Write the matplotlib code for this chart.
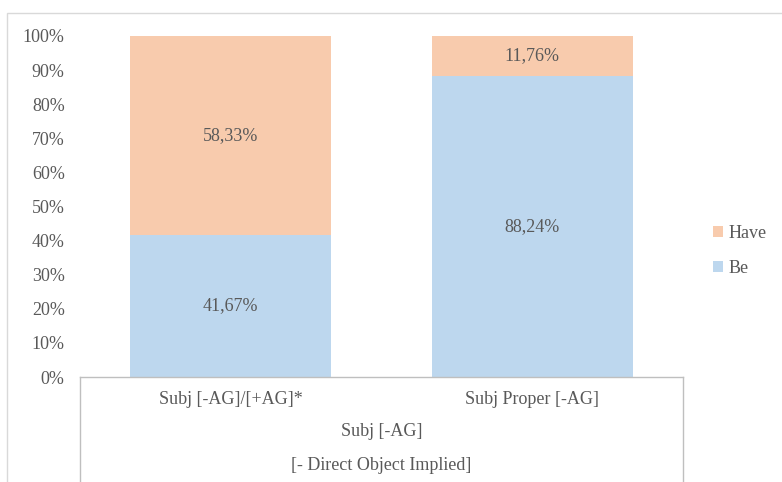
import matplotlib.pyplot as plt
from matplotlib.patches import Rectangle
from matplotlib.lines import Line2D

categories = ['Subj [-AG]/[+AG]*', 'Subj Proper [-AG]']
group_label = 'Subj [-AG]'
outer_label = '[- Direct Object Implied]'
be = [41.67, 88.24]
have = [58.33, 11.76]

be_color = '#BDD7EE'
have_color = '#F8CBAD'
text_color = '#595959'
line_color = '#BFBFBF'
fs = 13

plt.rcParams['font.family'] = ['Liberation Serif', 'DejaVu Serif']

W, H = 782, 482
fig = plt.figure(figsize=(W / 100, H / 100), dpi=100)
ax = fig.add_axes([80 / W, 1 - 377 / H, (683 - 80) / W, (377 - 36) / H])

x = [0.5, 1.5]
ax.bar(x, be, width=0.667, color=be_color, label='Be')
ax.bar(x, have, width=0.667, bottom=be, color=have_color, label='Have')

for xi, b, h in zip(x, be, have):
    ax.text(xi, b / 2, f'{b:.2f}%'.replace('.', ','), ha='center', va='center',
            fontsize=fs, color=text_color)
    ax.text(xi, b + h / 2, f'{h:.2f}%'.replace('.', ','), ha='center', va='center',
            fontsize=fs, color=text_color)

ax.set_xlim(0, 2)
ax.set_ylim(0, 100)
ax.set_yticks(range(0, 101, 10))
ax.set_yticklabels([f'{v}%' for v in range(0, 101, 10)], fontsize=fs, color=text_color)
ax.tick_params(axis='y', length=0, pad=11)
ax.set_xticks([])
for s in ax.spines.values():
    s.set_visible(False)

# multi-level category box
fx0, fx1 = 80 / W, 683 / W
fy0 = 1 - 377 / H
for fx in (fx0, fx1):
    fig.add_artist(Line2D([fx, fx], [0, fy0], color=line_color, lw=1))
fig.add_artist(Line2D([fx0, fx1], [fy0, fy0], color=line_color, lw=1))
for xi, lab in zip(x, categories):
    fx = (80 + xi / 2 * (683 - 80)) / W
    fig.text(fx, 1 - 399 / H, lab, ha='center', va='center', fontsize=fs, color=text_color)
fig.text((fx0 + fx1) / 2, 1 - 432 / H, group_label, ha='center', va='center',
         fontsize=fs, color=text_color)
fig.text((fx0 + fx1) / 2, 1 - 465 / H, outer_label, ha='center', va='center',
         fontsize=fs, color=text_color)

# legend
handles, labels = ax.get_legend_handles_labels()
leg = fig.legend(handles[::-1], labels[::-1], loc='center left',
                 bbox_to_anchor=(697 / W, 1 - 251 / H), frameon=False,
                 fontsize=fs, handlelength=0.55, handleheight=0.55,
                 handletextpad=0.3, labelspacing=1.0)
for t in leg.get_texts():
    t.set_color(text_color)

# outer chart border
fig.add_artist(Rectangle((7 / W, -0.01), 1.0, 1 - 13 / H + 0.01, transform=fig.transFigure,
                         fill=False, edgecolor='#D9D9D9', lw=1))

fig.savefig('out.png', dpi=100)
